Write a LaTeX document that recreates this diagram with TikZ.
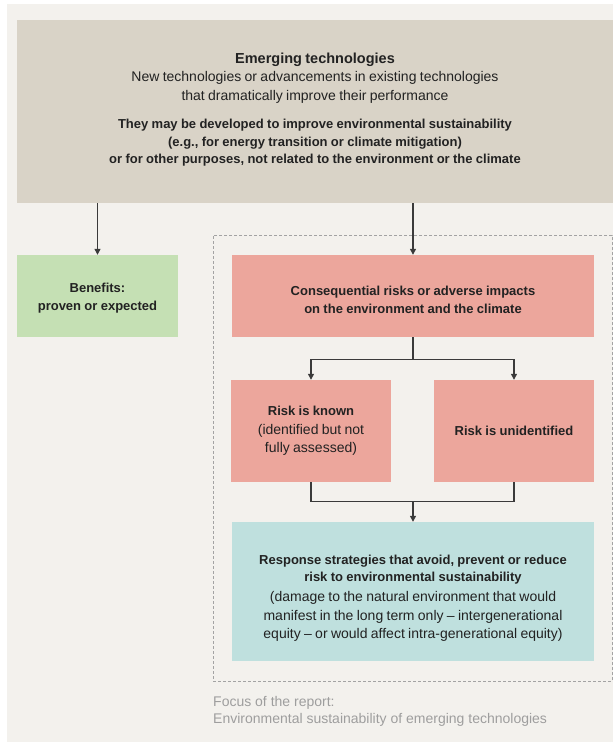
\documentclass[tikz,border=0pt]{standalone}
\usepackage{fontspec}
\setmainfont{Liberation Sans}
\usetikzlibrary{arrows.meta}
\definecolor{pagebg}{HTML}{F3F1ED}
\definecolor{topfill}{HTML}{D9D3C7}
\definecolor{benefitfill}{HTML}{C5E0B4}
\definecolor{riskfill}{HTML}{ECA69C}
\definecolor{responsefill}{HTML}{BFE0DE}
\definecolor{linecol}{HTML}{3A3A3A}
\definecolor{dashcol}{HTML}{A3A3A3}
\definecolor{footcol}{HTML}{9E9E9E}
\definecolor{textcol}{HTML}{222222}
\newcommand{\regtext}{\fontsize{14}{18.5}\selectfont}
\newcommand{\boldtext}{\fontsize{13}{17.5}\selectfont\bfseries}
\begin{document}
\begin{tikzpicture}[x=1pt,y=-1pt,
  boxnode/.style={draw=none, inner sep=0pt, align=center, text=textcol},
  conn/.style={draw=linecol, line width=1.2pt},
  arr/.style={conn, -{Triangle[length=6pt,width=6pt]}}]
\useasboundingbox (0,0) rectangle (613,742);
\fill[white] (0,0) rectangle (613,742);
\fill[pagebg] (7,4) rectangle (613,742);

% focus frame
\node[draw=dashcol, line width=0.9pt, dash pattern=on 3pt off 2pt,
      minimum width=399pt, minimum height=446pt, inner sep=0pt] (focus) at (412.5,458) {};
\node[anchor=base west, inner sep=0pt, align=left, text=footcol,
      font=\fontsize{14}{16.5}\selectfont] (focuslabel) at (213,723)
  {Focus of the report:\\Environmental sustainability of emerging technologies};

% top box
\node[boxnode, fill=topfill, minimum width=596pt, minimum height=183pt, text width=596pt] (top) at (315,111.5)
  {{\fontsize{14.5}{18}\selectfont\bfseries Emerging technologies\par}
   {\regtext New technologies or advancements in existing technologies\\
    that dramatically improve their performance\par}
   \vspace{11pt}
   {\boldtext They may be developed to improve environmental sustainability\\
    (e.g., for energy transition or climate mitigation)\\
    or for other purposes, not related to the environment or the climate\par}
   \vspace{4pt}};

% benefits
\node[boxnode, fill=benefitfill, minimum width=161pt, minimum height=82pt, text width=161pt] (benefits) at (97.5,296)
  {{\boldtext Benefits:\\proven or expected\par}\vspace{-4pt}};

% consequential
\node[boxnode, fill=riskfill, minimum width=362pt, minimum height=82pt, text width=362pt] (conseq) at (413,296)
  {{\boldtext Consequential risks or adverse impacts\\on the environment and the climate\par}\vspace{-8pt}};

% risks
\node[boxnode, fill=riskfill, minimum width=160pt, minimum height=102pt, text width=160pt] (known) at (311,431)
  {{\boldtext Risk is known\par}
   {\regtext (identified but not\\fully assessed)\par}};
\node[boxnode, fill=riskfill, minimum width=160pt, minimum height=102pt, text width=160pt] (unident) at (514,431)
  {{\boldtext Risk is unidentified\par}};

% response
\node[boxnode, fill=responsefill, minimum width=362pt, minimum height=139pt, text width=362pt] (response) at (413,591.5)
  {{\boldtext Response strategies that avoid, prevent or reduce\\
    risk to environmental sustainability\par}
   \vspace{1.5pt}
   {\regtext (damage to the natural environment that would\\
    manifest in the long term only -- intergenerational\\
    equity -- or would affect intra-generational equity)\par}
   \vspace{-13pt}};

% connectors
\draw[arr] (top.south -| benefits.north) -- (benefits.north);
\draw[arr] (top.south -| conseq.north) -- (conseq.north);

\coordinate (split) at ([yshift=-22pt]conseq.south);
\draw[conn] (conseq.south) -- (split);
\draw[arr] (split) -| (known.north);
\draw[arr] (split) -| (unident.north);

\coordinate (merge) at ([yshift=20pt]response.north);
\draw[conn] (known.south) |- (merge);
\draw[conn] (unident.south) |- (merge);
\draw[arr] (merge) -- (response.north);
\end{tikzpicture}
\end{document}
